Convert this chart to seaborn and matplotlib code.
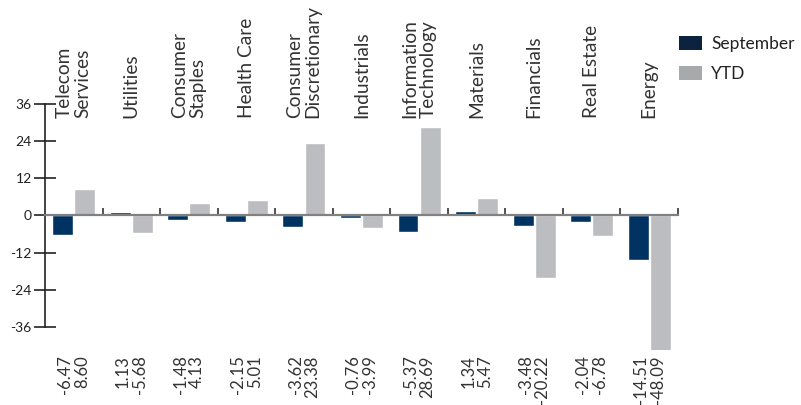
import matplotlib
matplotlib.use('Agg')
import matplotlib.pyplot as plt
import matplotlib.transforms as mtrans
from matplotlib.patches import Patch
import seaborn as sns
import pandas as pd

sectors = ["Telecom\nServices", "Utilities", "Consumer\nStaples", "Health Care",
           "Consumer\nDiscretionary", "Industrials", "Information\nTechnology",
           "Materials", "Financials", "Real Estate", "Energy"]
september = [-6.47, 1.13, -1.48, -2.15, -3.62, -0.76, -5.37, 1.34, -3.48, -2.04, -14.51]
ytd = [8.60, -5.68, 4.13, 5.01, 23.38, -3.99, 28.69, 5.47, -20.22, -6.78, -48.09]
series = ["September", "YTD"]
y_ticks = [-36, -24, -12, 0, 12, 24, 36]

bar_colors = {"September": "#003361", "YTD": "#bcbdc0"}
legend_colors = {"September": "#0c2340", "YTD": "#a8a9ab"}

sns.set_theme(style="white")
plt.rcParams['font.family'] = ['Lato', 'DejaVu Sans']

df = pd.DataFrame({
    "Sector": sectors * 2,
    "Period": [series[0]] * len(sectors) + [series[1]] * len(sectors),
    "Return": september + ytd,
})

fig = plt.figure(figsize=(8.01, 4.05), dpi=100)
ax = fig.add_axes([45 / 801, 1 - 350 / 405, (678 - 45) / 801, 246 / 405])
sns.barplot(data=df, x="Sector", y="Return", hue="Period", order=sectors,
            hue_order=series, palette=bar_colors, saturation=1, width=0.765,
            gap=0.05, errorbar=None, legend=False, ax=ax)

n = len(sectors)
ax.set_xlim(-0.5, n - 0.5)
ax.set_ylim(-43.5, 36)
ax.set_xlabel("")
ax.set_ylabel("")

for s in ["top", "right"]:
    ax.spines[s].set_visible(False)
ax.spines["left"].set_bounds(-36, 36)
ax.spines["left"].set_color("#222222")
ax.spines["left"].set_linewidth(1.2)
ax.spines["bottom"].set_position(("data", 0))
ax.spines["bottom"].set_color("#808080")
ax.spines["bottom"].set_linewidth(1.6)

ax.set_xticks([i + 0.5 for i in range(n)])
ax.set_xticklabels([])
ax.tick_params(axis="x", bottom=True, direction="in", length=5, width=1.2,
               color="#333333")
ax.set_yticks(y_ticks)
ax.set_yticklabels([str(t) for t in y_ticks])
ax.tick_params(axis="y", left=True, direction="inout", length=16, width=1.2,
               color="#222222", labelsize=10, pad=1.5, labelcolor="#222222")

blend = mtrans.blended_transform_factory(ax.transData, ax.transAxes)
for i, name in enumerate(sectors):
    ax.text(i, 0.943, name, transform=blend, rotation=90, ha="center", va="bottom",
            multialignment="left", fontsize=13.8, color="#333333", linespacing=1.08)
    ax.annotate(f"{september[i]:.2f}\n{ytd[i]:.2f}", xy=(i, 0), xycoords=blend,
                xytext=(0, -4), textcoords="offset points", rotation=90,
                ha="center", va="top", multialignment="right", fontsize=12,
                color="#333333", linespacing=1.05, annotation_clip=False)

handles = [Patch(facecolor=legend_colors[s], edgecolor="none", label=s) for s in series]
fig.legend(handles=handles, loc="upper left", bbox_to_anchor=(679 / 801, 1 - 36 / 405),
           frameon=False, fontsize=12.5, handlelength=1.3, handleheight=0.9,
           handletextpad=0.55, labelspacing=0.8, borderpad=0, borderaxespad=0,
           labelcolor="#222222")

fig.savefig("out.png", dpi=100)
